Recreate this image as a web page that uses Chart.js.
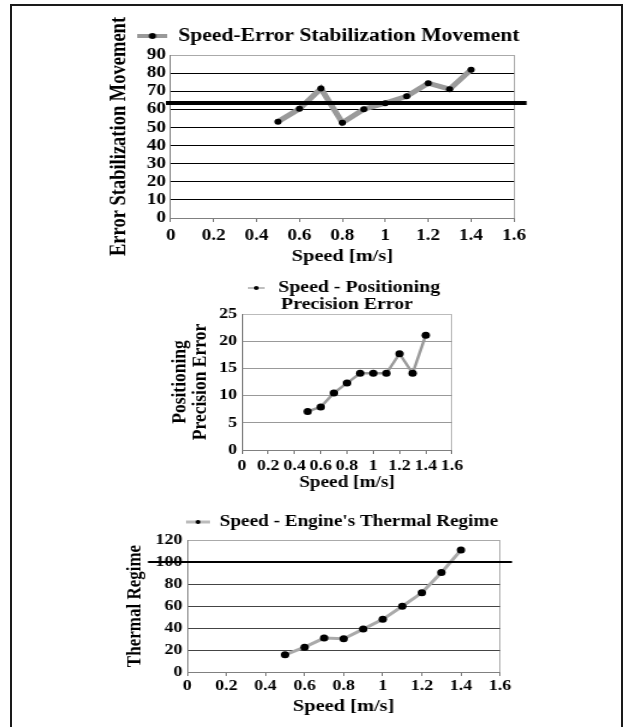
<!DOCTYPE html>
<html>
<head>
<meta charset="utf-8">
<script src="https://cdn.jsdelivr.net/npm/chart.js@4.4.1/dist/chart.umd.min.js"></script>
<style>
  html, body { margin: 0; padding: 0; background: #fff; }
  body { width: 624px; height: 727px; position: relative; overflow: hidden; }
  #frame { position: absolute; left: 10px; top: 4px; width: 609px; height: 760px; border: 2px solid #1a1a1a; }
  canvas { position: absolute; }
</style>
</head>
<body>
<div id="frame"></div>
<canvas id="stabChart"></canvas>
<canvas id="precisionChart"></canvas>
<canvas id="thermalChart"></canvas>
<script>
// --- data ---
const speeds = [0.5, 0.6, 0.7, 0.8, 0.9, 1.0, 1.1, 1.2, 1.3, 1.4];
const stabilizationError = [53.2, 60.3, 71.5, 52.6, 60.1, 63.4, 67.2, 74.4, 71.1, 81.9];
const positioningError = [7.1, 7.9, 10.5, 12.3, 14.1, 14.1, 14.1, 17.7, 14.1, 21.1];
const thermalRegime = [15.6, 22.6, 30.8, 30.2, 39.0, 47.9, 59.8, 72.0, 90.4, 110.8];

const stabilizationLimit = 63.5;
const thermalLimit = 100;

const speedTicks = [0, 0.2, 0.4, 0.6, 0.8, 1.0, 1.2, 1.4, 1.6];
const speedTickLabels = ['0', '0.2', '0.4', '0.6', '0.8', '1', '1.2', '1.4', '1.6'];
const stabTicks = [0, 10, 20, 30, 40, 50, 60, 70, 80, 90];
const precisionTicks = [0, 5, 10, 15, 20, 25];
const thermalTicks = [0, 20, 40, 60, 80, 100, 120];

// the scanned figure is stretched sideways, so each canvas is drawn narrower and widened by css
const STRETCH = 1.2;
const FONT = "'Liberation Serif', 'Times New Roman', serif";
const serif = (size, lineHeight) => ({ family: FONT, size, weight: 'bold', lineHeight: lineHeight || 1.2 });

// horizontal limit line that runs a little past the plot area
const limitLine = {
  id: 'limitLine',
  afterDatasetsDraw(chart, args, opts) {
    if (opts.value == null) return;
    const y = chart.scales.y.getPixelForValue(opts.value);
    const { left, right } = chart.chartArea;
    const ctx = chart.ctx;
    ctx.save();
    ctx.strokeStyle = opts.color;
    ctx.lineWidth = opts.width;
    ctx.beginPath();
    ctx.moveTo(left - opts.extendLeft, y);
    ctx.lineTo(right + opts.extendRight, y);
    ctx.stroke();
    ctx.restore();
  }
};

// legend symbol: grey line with a black dot; `shift` adds blank room on one side to nudge the legend
function legendMark(w, h, lineColor, lineWidth, dotR, shift) {
  const c = document.createElement('canvas');
  const pad = Math.abs(shift);
  c.width = Math.round(w + pad); c.height = h;
  const x0 = shift > 0 ? pad : 0;
  const g = c.getContext('2d');
  g.strokeStyle = lineColor; g.lineWidth = lineWidth;
  g.beginPath(); g.moveTo(x0, h / 2); g.lineTo(x0 + w, h / 2); g.stroke();
  g.fillStyle = '#000';
  g.beginPath(); g.arc(x0 + w / 2, h / 2, dotR, 0, Math.PI * 2); g.fill();
  return c;
}

function buildChart(cfg) {
  const el = document.getElementById(cfg.id);
  const b = cfg.box;
  el.width = Math.round(b.width / STRETCH);
  el.height = b.height;
  Object.assign(el.style, { left: b.left + 'px', top: b.top + 'px', width: b.width + 'px', height: b.height + 'px' });
  const k = b.width / el.width;

  const rightGap = (b.left + b.width - cfg.plot.right) / k;
  const yAxisWidth = (cfg.plot.left - b.left) / k;
  const xAxisHeight = b.top + b.height - cfg.plot.bottom;
  const yTitleLine = cfg.yTitleSize * (cfg.yTitleLine || 1.2);
  const yTitlePad = (cfg.yTitleX - b.left) / k - yTitleLine / 2;
  const yMax = cfg.yTicks[cfg.yTicks.length - 1];
  const xMax = speedTicks[speedTicks.length - 1];
  const m = cfg.mark;
  // legend spans the whole canvas, so nudge it with blank room beside the symbol
  const shift = 2 * (cfg.legendCenter - (b.left + b.width / 2)) / k;
  const symbol = legendMark(m.w, 10, m.color, m.width, m.dot, shift);

  return new Chart(el, {
    type: 'line',
    data: {
      datasets: [{
        label: cfg.legend,
        data: speeds.map((s, i) => ({ x: s, y: cfg.values[i] })),
        borderColor: cfg.lineColor,
        borderWidth: cfg.lineWidth,
        pointRadius: cfg.pointRadius,
        pointBackgroundColor: '#000',
        pointBorderColor: '#000',
        pointBorderWidth: 0,
        tension: 0,
        fill: false,
      }],
    },
    plugins: cfg.limit ? [limitLine] : [],
    options: {
      responsive: false,
      animation: false,
      devicePixelRatio: 1,
      events: [],
      layout: { padding: { left: 0, right: 0, top: cfg.legendTop - b.top, bottom: 0 } },
      plugins: {
        tooltip: { enabled: false },
        legend: {
          weight: 2000,
          labels: {
            font: serif(cfg.legendSize),
            color: '#000',
            usePointStyle: true,
            pointStyle: symbol,
            pointStyleWidth: symbol.width,
            padding: cfg.legendPad,
          },
        },
        subtitle: cfg.subtitle || { display: false },
        limitLine: cfg.limit || {},
      },
      scales: {
        x: {
          type: 'linear',
          min: 0,
          max: xMax,
          afterBuildTicks: s => { s.ticks = speedTicks.map(v => ({ value: v })); },
          afterFit: s => { s.height = xAxisHeight; },
          ticks: {
            callback: (v, i) => speedTickLabels[i],
            autoSkip: false, maxRotation: 0,
            font: serif(cfg.xTickSize), color: '#000', padding: cfg.xTickPad,
          },
          grid: {
            color: c => (c.tick && c.tick.value === xMax ? cfg.edgeColor : 'rgba(0,0,0,0)'),
            tickColor: '#777', tickLength: 4, drawTicks: true,
          },
          border: { color: '#808080', width: 1 },
          title: { display: true, text: 'Speed [m/s]', font: serif(cfg.xTitleSize), color: '#000', padding: { top: 0, bottom: cfg.xTitlePad } },
        },
        y: {
          min: 0,
          max: yMax,
          afterBuildTicks: s => { s.ticks = cfg.yTicks.map(v => ({ value: v })); },
          afterFit: s => { s.width = yAxisWidth; },
          ticks: { font: serif(cfg.yTickSize), color: '#000', padding: 4, autoSkip: false },
          grid: {
            color: c => (c.tick && c.tick.value === yMax ? cfg.edgeColor : cfg.gridColor),
            drawTicks: false,
          },
          border: { color: '#808080', width: 1 },
          title: { display: true, text: cfg.yTitle, font: serif(cfg.yTitleSize, cfg.yTitleLine), color: '#000', padding: { top: yTitlePad, bottom: 0 } },
        },
        // empty right-hand axis that only reserves the blank space right of the plot
        spacer: {
          type: 'linear',
          position: 'right',
          display: true,
          afterFit: s => { s.width = rightGap; },
          ticks: { display: false },
          grid: { display: false },
          border: { display: false },
        },
      },
    },
  });
}

buildChart({
  id: 'stabChart',
  box: { left: 100, top: 10, width: 457, height: 260 },
  plot: { left: 170.7, right: 514, bottom: 218 },
  legendTop: 20, legendSize: 18, legendPad: 7, legendCenter: 328.5,
  legend: 'Speed-Error Stabilization Movement',
  mark: { w: 25, color: '#999', width: 4, dot: 3 },
  values: stabilizationError,
  yTicks: stabTicks,
  lineColor: '#9a9a9a', lineWidth: 5, pointRadius: 3,
  gridColor: '#000', edgeColor: '#aaa',
  xTickSize: 16, xTickPad: 4, yTickSize: 16,
  xTitleSize: 17, xTitlePad: 3,
  yTitle: 'Error Stabilization Movement', yTitleSize: 18.5, yTitleX: 119,
  limit: { value: stabilizationLimit, color: '#000', width: 4, extendLeft: 4, extendRight: 10.5 },
});

buildChart({
  id: 'precisionChart',
  box: { left: 165, top: 270, width: 358, height: 226 },
  plot: { left: 242, right: 452, bottom: 450 },
  legendTop: 277.75, legendSize: 16.5, legendPad: 2, legendCenter: 342,
  legend: 'Speed - Positioning',
  subtitle: { display: true, fullSize: false, text: 'Precision Error', font: serif(16.5), color: '#000', padding: { top: -11.15, bottom: -0.9 } },
  mark: { w: 14, color: '#aaa', width: 1.5, dot: 2 },
  values: positioningError,
  yTicks: precisionTicks,
  lineColor: '#9a9a9a', lineWidth: 2.5, pointRadius: 3.5,
  gridColor: '#999', edgeColor: '#bbb',
  xTickSize: 15, xTickPad: 3, yTickSize: 15,
  xTitleSize: 16, xTitlePad: 3.4,
  yTitle: ['Positioning', 'Precision Error'], yTitleSize: 17.5, yTitleLine: 0.95, yTitleX: 180,
});

buildChart({
  id: 'thermalChart',
  box: { left: 120, top: 505, width: 444, height: 217 },
  plot: { left: 187.3, right: 500, bottom: 672 },
  legendTop: 513, legendSize: 16, legendPad: 1, legendCenter: 342,
  legend: "Speed - Engine's Thermal Regime",
  mark: { w: 20, color: '#bbb', width: 3, dot: 2 },
  values: thermalRegime,
  yTicks: thermalTicks,
  lineColor: '#aaa', lineWidth: 3, pointRadius: 3.5,
  gridColor: '#444', edgeColor: '#aaa',
  xTickSize: 15, xTickPad: 1, yTickSize: 15,
  xTitleSize: 17, xTitlePad: 4.8,
  yTitle: 'Thermal Regime', yTitleSize: 17, yTitleX: 135,
  limit: { value: thermalLimit, color: '#000', width: 2, extendLeft: 32.8, extendRight: 10 },
});
</script>
</body>
</html>
